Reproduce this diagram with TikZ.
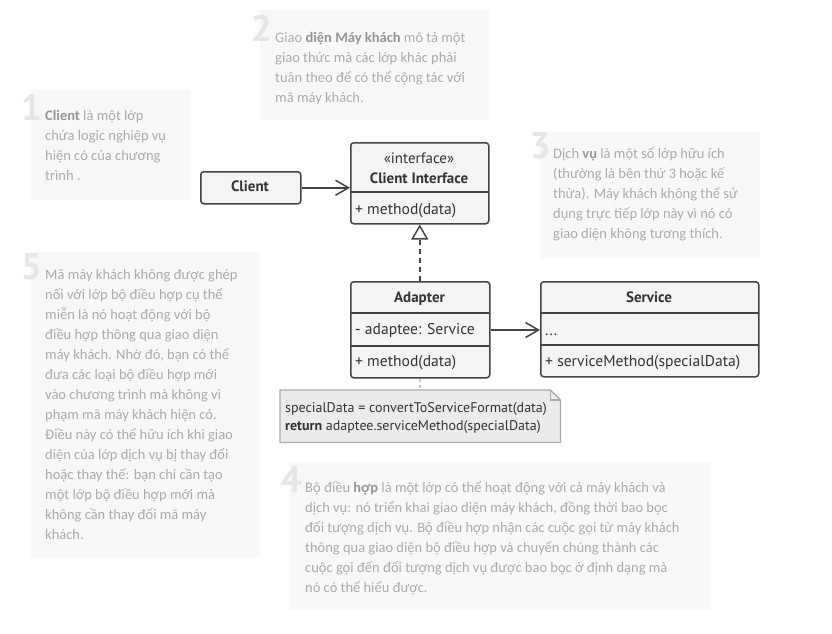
\documentclass[tikz,border=0pt]{standalone}
\usepackage{fontspec}
\setmainfont{PT Sans}
\newfontfamily\notefont{Carlito}
\usetikzlibrary{arrows.meta,calc}
\definecolor{boxline}{HTML}{444444}
\definecolor{boxfill}{HTML}{F4F4F4}
\definecolor{boxtext}{HTML}{333333}
\definecolor{notefill}{HTML}{F8F8F8}
\definecolor{notetxt}{HTML}{ABABAB}
\definecolor{notebold}{HTML}{959595}
\definecolor{numcol}{HTML}{E6E6E6}
\definecolor{codefill}{HTML}{EBEBEB}
\definecolor{codeline}{HTML}{ABABAB}
\definecolor{linkgray}{HTML}{C8C8C8}
\newcommand{\nb}[1]{\textcolor{notebold}{\bfseries #1}}
\begin{document}
\begin{tikzpicture}[x=1pt,y=-1pt,
  umlbox/.style={draw=boxline, fill=boxfill, line width=1.5pt, rounded corners=3pt, inner sep=0pt, anchor=north west},
  divider/.style={draw=boxline, line width=1.5pt},
  title/.style={anchor=base, inner sep=0pt, text=boxtext, font=\bfseries\fontsize{15}{18}\selectfont},
  stereo/.style={anchor=base, inner sep=0pt, text=boxtext, font=\fontsize{15}{18}\selectfont},
  member/.style={anchor=base west, inner sep=0pt, text=boxtext, font=\fontsize{15.6}{18}\selectfont},
  assoc/.style={draw=boxline, line width=1.5pt, -{Straight Barb[length=13pt,width=15pt,line width=1.5pt]}},
  realize/.style={draw=boxline, line width=1.5pt, dash pattern=on 5pt off 4pt, -{Triangle[open,length=15pt,width=17pt,line width=1.5pt]}},
  notebg/.style={fill=notefill, draw=none, inner sep=0pt, anchor=north west},
  notetext/.style={anchor=north west, inner sep=0pt, align=left, text=notetxt, font=\notefont\fontsize{14.5}{20}\selectfont},
  notenum/.style={anchor=base east, inner sep=0pt, text=numcol, font=\bfseries\fontsize{37}{37}\selectfont},
  codetext/.style={anchor=north west, inner sep=0pt, align=left, text=boxtext, font=\fontsize{14}{18}\selectfont}]
\useasboundingbox (0,0) rectangle (832,634);
\fill[white] (0,0) rectangle (832,634);

% ---------- notes ----------
\node[notebg, minimum width=160pt, minimum height=110pt] (n1bg) at (30,90) {};
\node[notenum] (n1num) at (42,120) {1};
\node[notetext] (n1) at (45,105) {\rule{0pt}{15pt}\nb{Client} là một lớp\\chứa logic nghiệp vụ\\hiện có của chương\\trình .};

\node[notebg, minimum width=230pt, minimum height=110pt] (n2bg) at (260,10) {};
\node[notenum] (n2num) at (272,42) {2};
\node[notetext] (n2) at (275,27) {\rule{0pt}{15pt}Giao \nb{diện Máy khách} mô tả một\\giao thức mà các lớp khác phải\\tuân theo để có thể cộng tác với\\mã máy khách.};

\node[notebg, minimum width=220pt, minimum height=126pt] (n3bg) at (540,132) {};
\node[notenum] (n3num) at (551,158) {3};
\node[notetext] (n3) at (553,143) {\rule{0pt}{15pt}Dịch \nb{vụ} là một số lớp hữu ích\\(thường là bên thứ 3 hoặc kế\\thừa). Máy khách không thể sử\\dụng trực tiếp lớp này vì nó có\\giao diện không tương thích.};

\node[notebg, minimum width=230pt, minimum height=306pt] (n5bg) at (30,252) {};
\node[notenum] (n5num) at (42,279) {5};
\node[notetext] (n5) at (45,264) {\rule{0pt}{15pt}Mã máy khách không được ghép\\nối với lớp bộ điều hợp cụ thể\\miễn là nó hoạt động với bộ\\điều hợp thông qua giao diện\\máy khách. Nhờ đó, bạn có thể\\đưa các loại bộ điều hợp mới\\vào chương trình mà không vi\\phạm mã máy khách hiện có.\\Điều này có thể hữu ích khi giao\\diện của lớp dịch vụ bị thay đổi\\hoặc thay thế: bạn chỉ cần tạo\\một lớp bộ điều hợp mới mà\\không cần thay đổi mã máy\\khách.};

\node[notebg, minimum width=420pt, minimum height=148pt] (n4bg) at (290,462) {};
\node[notenum] (n4num) at (302,492) {4};
\node[notetext] (n4) at (305,477) {\rule{0pt}{15pt}Bộ điều \nb{hợp} là một lớp có thể hoạt động với cả máy khách và\\dịch vụ: nó triển khai giao diện máy khách, đồng thời bao bọc\\đối tượng dịch vụ. Bộ điều hợp nhận các cuộc gọi từ máy khách\\thông qua giao diện bộ điều hợp và chuyển chúng thành các\\cuộc gọi đến đối tượng dịch vụ được bao bọc ở định dạng mà\\nó có thể hiểu được.};

% ---------- Client ----------
\node[umlbox, minimum width=100pt, minimum height=32pt] (client) at (200,171) {};
\node[title] (clientName) at (250,191) {Client};

% ---------- Client Interface ----------
\node[umlbox, minimum width=138pt, minimum height=81pt] (iface) at (350,142) {};
\draw[divider] (350,192) -- (488,192);
\node[stereo] (ifaceSter) at (419,163) {«interface»};
\node[title] (ifaceName) at (419,183) {Client Interface};
\node[member] (ifaceM) at (355,214) {+ method(data)};

% ---------- Adapter ----------
\node[umlbox, minimum width=139pt, minimum height=96pt] (adapter) at (350,281) {};
\draw[divider] (350,313) -- (489,313);
\draw[divider] (350,346) -- (489,346);
\node[title] (adapterName) at (419.5,302) {Adapter};
\node[member] (adField) at (355,334) {- adaptee: Service};
\node[member] (adM) at (355,366) {+ method(data)};

% ---------- Service ----------
\node[umlbox, minimum width=218pt, minimum height=95pt] (service) at (540,281) {};
\draw[divider] (540,313) -- (758,313);
\draw[divider] (540,345) -- (758,345);
\node[title] (serviceName) at (649,302) {Service};
\node[member] (svField) at (545,335) {...};
\node[member] (svM) at (545,366) {+ serviceMethod(specialData)};

% ---------- code note ----------
\node[inner sep=0pt, anchor=north west, minimum width=280pt, minimum height=52pt] (code) at (280,390) {};
\filldraw[fill=codefill, draw=codeline, line width=1.2pt]
  (code.north west) -- ($(code.north east)+(-10,0)$) -- ($(code.north east)+(0,10)$)
  -- (code.south east) -- (code.south west) -- cycle;
\draw[codeline, line width=1.2pt] ($(code.north east)+(-10,0)$) -- ($(code.north east)+(-10,10)$) -- ($(code.north east)+(0,10)$);
\node[codetext] (codeText) at (285,397) {\rule{0pt}{15pt}specialData = convertToServiceFormat(data)\\\textbf{return} adaptee.serviceMethod(specialData)};

% ---------- connectors ----------
\draw[assoc] (client.east) -- (client.east -| iface.west);
\draw[realize] (adapter.north -| iface.south) -- (iface.south);
\draw[assoc] (adapter.east |- adField) -- (service.west |- adField);
\draw[linkgray, line width=1.5pt, dash pattern=on 3pt off 3pt] (adapter.south -| iface.south) -- (code.north -| iface.south);
\end{tikzpicture}
\end{document}
